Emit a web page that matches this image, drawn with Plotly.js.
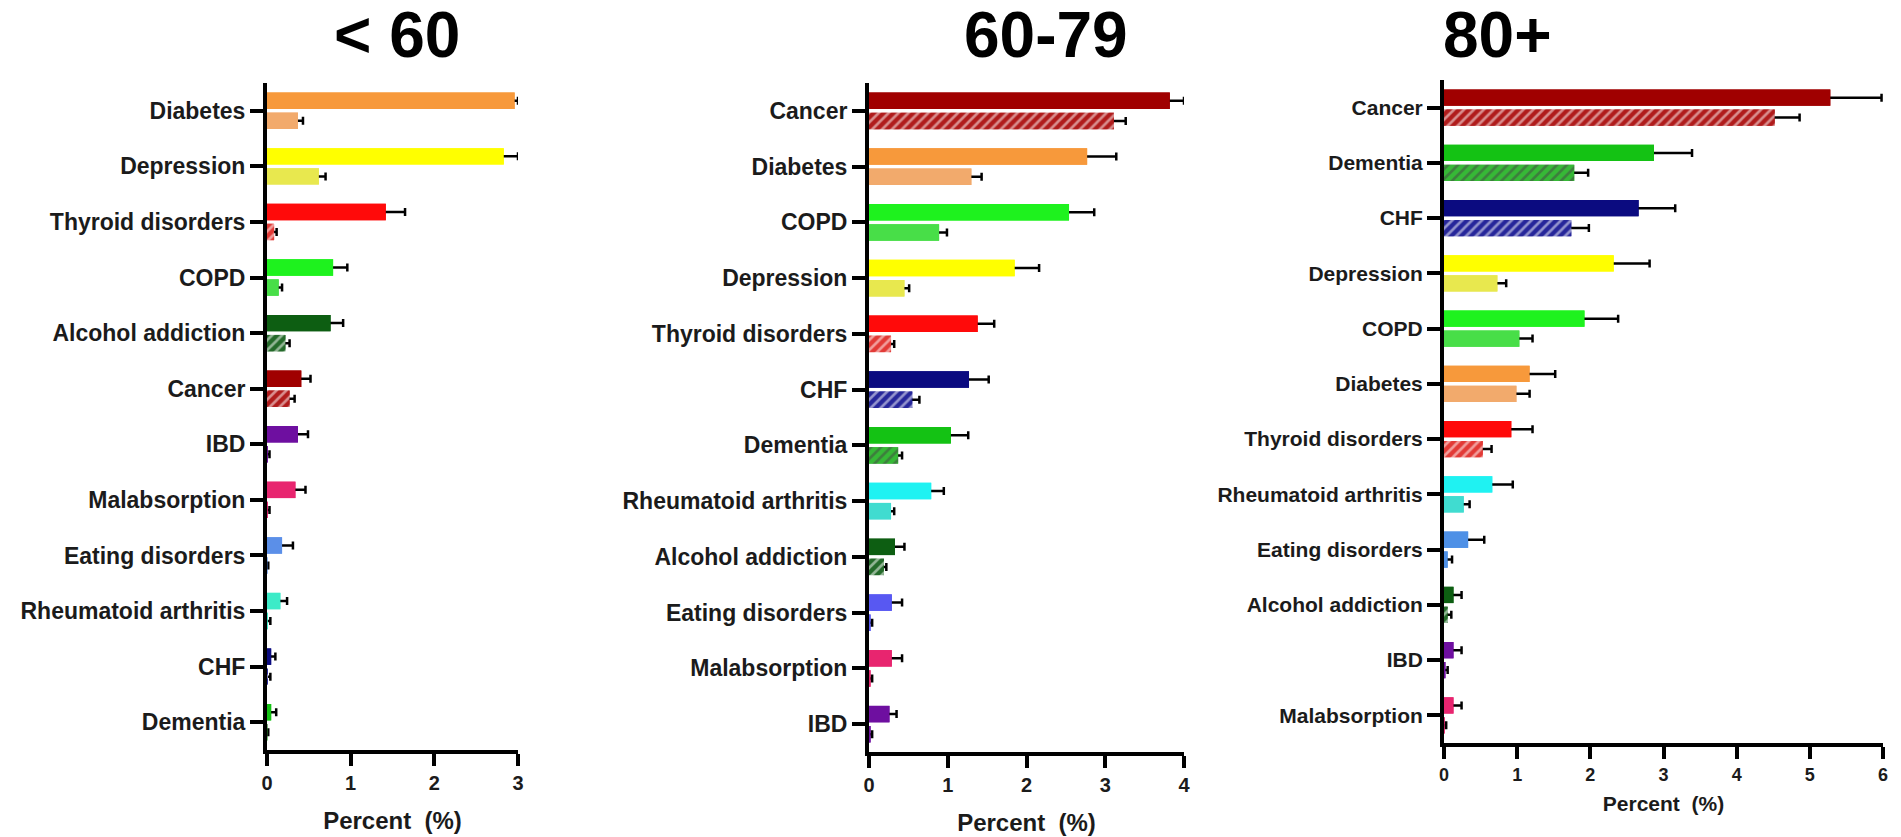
<!DOCTYPE html>
<html>
<head>
<meta charset="utf-8">
<script src="https://cdn.plot.ly/plotly-3.0.1.min.js"></script>
<style>
  html, body { margin: 0; padding: 0; background: #ffffff; }
  #chart { width: 1901px; height: 837px; }
</style>
</head>
<body>
<div id="chart"></div>
<script>
// ---- Age group: < 60 ----
const catsU60 = ['Diabetes', 'Depression', 'Thyroid disorders', 'COPD', 'Alcohol addiction', 'Cancer',
                 'IBD', 'Malabsorption', 'Eating disorders', 'Rheumatoid arthritis', 'CHF', 'Dementia'];
const u60Main    = [2.96, 2.83, 1.42, 0.79, 0.76, 0.41, 0.37, 0.34, 0.18, 0.16, 0.05, 0.05];
const u60MainErr = [0.04, 0.17, 0.23, 0.17, 0.15, 0.11, 0.12, 0.12, 0.13, 0.08, 0.05, 0.06];
const u60Sub     = [0.37, 0.62, 0.085, 0.14, 0.22, 0.27, 0.01, 0.01, 0.005, 0.01, 0.01, 0.005];
const u60SubErr  = [0.06, 0.08, 0.03, 0.04, 0.05, 0.06, 0.02, 0.02, 0.01, 0.03, 0.03, 0.01];

// ---- Age group: 60-79 ----
const cats6079 = ['Cancer', 'Diabetes', 'COPD', 'Depression', 'Thyroid disorders', 'CHF', 'Dementia',
                  'Rheumatoid arthritis', 'Alcohol addiction', 'Eating disorders', 'Malabsorption', 'IBD'];
const m6079Main    = [3.82, 2.77, 2.54, 1.85, 1.38, 1.27, 1.04, 0.79, 0.33, 0.29, 0.29, 0.26];
const m6079MainErr = [0.18, 0.37, 0.32, 0.31, 0.21, 0.25, 0.22, 0.16, 0.12, 0.13, 0.13, 0.09];
const m6079Sub     = [3.11, 1.30, 0.89, 0.45, 0.28, 0.55, 0.37, 0.28, 0.19, 0.02, 0.02, 0.02];
const m6079SubErr  = [0.15, 0.13, 0.10, 0.06, 0.04, 0.09, 0.05, 0.04, 0.03, 0.02, 0.02, 0.02];

// ---- Age group: 80+ ----
const cats80 = ['Cancer', 'Dementia', 'CHF', 'Depression', 'COPD', 'Diabetes', 'Thyroid disorders',
                'Rheumatoid arthritis', 'Eating disorders', 'Alcohol addiction', 'IBD', 'Malabsorption'];
const o80Main    = [5.28, 2.87, 2.66, 2.32, 1.92, 1.17, 0.92, 0.66, 0.33, 0.13, 0.13, 0.13];
const o80MainErr = [0.70, 0.52, 0.50, 0.49, 0.46, 0.35, 0.29, 0.28, 0.22, 0.11, 0.11, 0.11];
const o80Sub     = [4.52, 1.78, 1.74, 0.73, 1.03, 0.99, 0.53, 0.27, 0.05, 0.05, 0.02, 0.01];
const o80SubErr  = [0.34, 0.19, 0.24, 0.12, 0.18, 0.18, 0.12, 0.08, 0.06, 0.05, 0.03, 0.02];

const groupTitles = ['< 60', '60-79', '80+'];
const xTitle = 'Percent  (%)';
const xMax = [3, 4, 6];

// ---- Styling per condition ----
const mainColor = {
  'Diabetes': '#F7993B', 'Depression': '#FFFF00', 'Thyroid disorders': '#FF0A0A', 'COPD': '#1EF21E',
  'Alcohol addiction': '#0D5E12', 'Cancer': '#A00000', 'IBD': '#6E0FA0', 'Malabsorption': '#E8256F',
  'Eating disorders': '#5B8FE8', 'Rheumatoid arthritis': '#1FF2F2', 'CHF': '#0B0B80', 'Dementia': '#14C214'
};
const subColor = {
  'Diabetes': '#F2AA6C', 'Depression': '#E8E84E', 'Thyroid disorders': '#E23A36', 'COPD': '#48DE48',
  'Alcohol addiction': '#246A2A', 'Cancer': '#B01C1C', 'IBD': '#6E0FA0', 'Malabsorption': '#E8256F',
  'Eating disorders': '#5B8FE8', 'Rheumatoid arthritis': '#40DCD0', 'CHF': '#26269A', 'Dementia': '#36B936'
};
const hatchColor = {
  'Thyroid disorders': '#FFB4B0', 'Alcohol addiction': '#A8D0A8', 'Cancer': '#F29A98',
  'CHF': '#B4B4F4', 'Dementia': '#B4F0B4'
};
// small per-panel shade differences
const panelOverrides = [
  { 'Rheumatoid arthritis': '#3CEBC8' },
  { 'Eating disorders': '#5858F2' },
  { 'Eating disorders': '#4E90E6' }
];

const FONT = 'Liberation Sans, Arial, Helvetica, sans-serif';
const INK = '#1b1b1b';

const fullW = 1901, fullH = 837;
// plot areas in pixels: [left, right, top, bottom]
const boxes = [
  [267, 518, 83, 750],
  [869, 1184, 83, 752],
  [1444, 1883, 80, 743]
];
const ySizes = [23, 23, 21];
const xTickSizes = [20, 20, 18];
const xTitleSizes = [24, 24, 21];
const xTitleStandoff = [20, 20, 14];
const titleX = [397, 1046, 1497];

const panels = [
  [catsU60, u60Main, u60MainErr, u60Sub, u60SubErr],
  [cats6079, m6079Main, m6079MainErr, m6079Sub, m6079SubErr],
  [cats80, o80Main, o80MainErr, o80Sub, o80SubErr]
];

function barTrace(p, cats, vals, errs, isSub, withErr) {
  const ov = panelOverrides[p];
  const colors = cats.map(c => (!isSub && ov[c]) ? ov[c] : (isSub ? (ov[c] || subColor[c]) : mainColor[c]));
  const shapes = cats.map(c => (isSub && hatchColor[c]) ? '/' : '');
  const fg = cats.map(c => hatchColor[c] || '#ffffff');
  const ax = p === 0 ? '' : String(p + 1);
  const t = {
    type: 'bar', orientation: 'h',
    x: vals, y: cats,
    xaxis: 'x' + ax, yaxis: 'y' + ax,
    offsetgroup: isSub ? 'sub' : 'main',
    marker: {
      color: colors,
      line: { width: 0 },
      pattern: isSub ? { shape: shapes, fgcolor: fg, bgcolor: colors, size: 7, solidity: 0.38, fillmode: 'overlay' } : undefined
    },
    hoverinfo: 'x+y',
    showlegend: false
  };
  if (withErr) {
    t.error_x = { type: 'data', symmetric: true, array: errs, color: '#000000', thickness: 2.5, width: 4 };
  } else {
    t.error_x = { visible: false };
  }
  return t;
}

const data = [];
// bars carrying whiskers first, identical bars on top so only the outward whisker shows
panels.forEach((pd, p) => {
  const [cats, mainV, mainE, subV, subE] = pd;
  data.push(barTrace(p, cats, mainV, mainE, false, true));
  data.push(barTrace(p, cats, subV, subE, true, true));
});
panels.forEach((pd, p) => {
  const [cats, mainV, mainE, subV, subE] = pd;
  data.push(barTrace(p, cats, mainV, mainE, false, false));
  data.push(barTrace(p, cats, subV, subE, true, false));
});

const layout = {
  width: fullW, height: fullH,
  margin: { l: 0, r: 0, t: 0, b: 0 },
  paper_bgcolor: '#ffffff', plot_bgcolor: '#ffffff',
  barmode: 'group', bargap: 0.28, bargroupgap: 0.18,
  showlegend: false,
  font: { family: FONT, color: INK },
  annotations: []
};

boxes.forEach((b, p) => {
  const ax = p === 0 ? '' : String(p + 1);
  const cats = panels[p][0];
  layout['xaxis' + ax] = {
    domain: [b[0] / fullW, b[1] / fullW],
    anchor: 'y' + ax,
    range: [0, xMax[p]],
    tick0: 0, dtick: 1,
    showline: true, linewidth: 4, linecolor: '#000000',
    ticks: 'outside', ticklen: 12, tickwidth: 4, tickcolor: '#000000',
    showgrid: false, zeroline: false, fixedrange: true,
    tickfont: { family: FONT, size: xTickSizes[p], color: INK, weight: 'bold' },
    title: { text: xTitle, standoff: xTitleStandoff[p], font: { family: FONT, size: xTitleSizes[p], color: INK, weight: 'bold' } }
  };
  layout['yaxis' + ax] = {
    domain: [1 - b[3] / fullH, 1 - b[2] / fullH],
    anchor: 'x' + ax,
    type: 'category', categoryorder: 'array', categoryarray: cats,
    autorange: 'reversed',
    showline: true, linewidth: 4, linecolor: '#000000',
    ticks: 'outside', ticklen: 13, tickwidth: 4, tickcolor: '#000000',
    showgrid: false, zeroline: false, fixedrange: true,
    tickfont: { family: FONT, size: ySizes[p], color: INK, weight: 'bold' }
  };
  layout.annotations.push({
    xref: 'paper', yref: 'paper',
    x: titleX[p] / fullW, y: 1 - 35 / fullH,
    xanchor: 'center', yanchor: 'middle',
    text: groupTitles[p], showarrow: false,
    font: { family: FONT, size: 64, color: '#000000', weight: 'bold' }
  });
});

Plotly.newPlot('chart', data, layout, { displayModeBar: false, staticPlot: true });
</script>
</body>
</html>
